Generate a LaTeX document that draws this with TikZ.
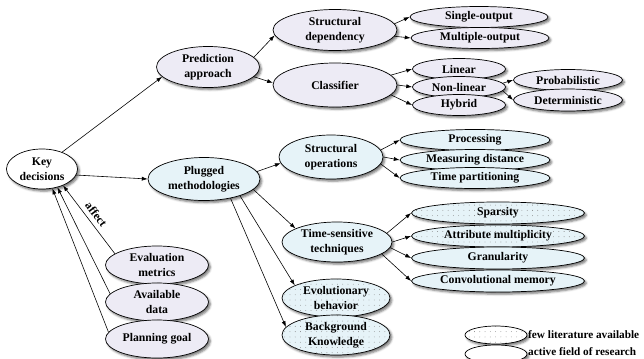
\documentclass[tikz,border=0pt]{standalone}
\usepackage{fontspec}
\setmainfont{Liberation Serif}
\usetikzlibrary{shapes.geometric, arrows.meta, patterns.meta, shadows.blur}
\definecolor{predLilac}{HTML}{EDEBF5}
\definecolor{plugBlue}{HTML}{E6F3F8}

\begin{document}
\begin{tikzpicture}[x=0.03cm, y=-0.03cm,
    baseNode/.style={ellipse, draw=black, line width=0.6pt, inner sep=0pt, align=center, font=\fontsize{10}{12.5}\selectfont\bfseries, blur shadow={shadow xshift=1.6pt, shadow yshift=-1.8pt, shadow blur steps=4, shadow opacity=55}},
    keyNode/.style={baseNode, fill=white},
    predNode/.style={baseNode, fill=predLilac},
    plugNode/.style={baseNode, fill=plugBlue},
    fewLit/.style={preaction={fill=#1}, pattern={Dots[distance=4.5pt, radius=0.35pt]}, pattern color=black!50},
    leafArrow/.style={-{Latex[length=5pt, width=3.5pt]}, line width=0.5pt},
    legendText/.style={anchor=west, inner sep=0pt, font=\fontsize{9.6}{12}\selectfont\bfseries},
]
\useasboundingbox (0,0) rectangle (644,358);
\node[keyNode, minimum width=2.13cm, minimum height=1.2cm] (key) at (42,169) {Key\\decisions};
\node[predNode, minimum width=3.09cm, minimum height=1.23cm] (pred) at (208,67) {Prediction\\approach};
\node[predNode, minimum width=3.72cm, minimum height=1.23cm] (sdep) at (335,30) {Structural\\dependency};
\node[predNode, minimum width=3.72cm, minimum height=1.32cm] (clf) at (335,85) {Classifier};
\node[predNode, minimum width=4.14cm, minimum height=0.63cm] (single) at (479,17) {Single-output};
\node[predNode, minimum width=4.14cm, minimum height=0.63cm] (multi) at (480,38) {Multiple-output};
\node[predNode, minimum width=2.79cm, minimum height=0.63cm] (linear) at (459,69) {Linear};
\node[predNode, minimum width=2.79cm, minimum height=0.63cm] (nonlin) at (459,87) {Non-linear};
\node[predNode, minimum width=2.79cm, minimum height=0.63cm] (hybrid) at (459,105) {Hybrid};
\node[predNode, minimum width=3.27cm, minimum height=0.63cm] (prob) at (568,80) {Probabilistic};
\node[predNode, minimum width=3.27cm, minimum height=0.66cm] (deter) at (568,100) {Deterministic};
\node[plugNode, minimum width=3.36cm, minimum height=1.29cm] (plug) at (204,179) {Plugged\\methodologies};
\node[plugNode, minimum width=3.12cm, minimum height=1.32cm] (sops) at (331,157) {Structural\\operations};
\node[plugNode, minimum width=4.5cm, minimum height=0.63cm] (proc) at (475,140) {Processing};
\node[plugNode, minimum width=4.5cm, minimum height=0.63cm] (meas) at (475,160) {Measuring distance};
\node[plugNode, minimum width=4.5cm, minimum height=0.63cm] (timep) at (475,178) {Time partitioning};
\node[plugNode, minimum width=3.3cm, minimum height=1.2cm] (tst) at (337,242) {Time-sensitive\\techniques};
\node[plugNode, fewLit=plugBlue, minimum width=5.19cm, minimum height=0.66cm] (spars) at (498,213) {Sparsity};
\node[plugNode, fewLit=plugBlue, minimum width=5.19cm, minimum height=0.66cm] (attr) at (498,236) {Attribute multiplicity};
\node[plugNode, minimum width=5.19cm, minimum height=0.66cm] (gran) at (498,258) {Granularity};
\node[plugNode, minimum width=5.19cm, minimum height=0.66cm] (conv) at (498,281) {Convolutional memory};
\node[plugNode, fewLit=plugBlue, minimum width=3.24cm, minimum height=1.14cm] (evo) at (336,298) {Evolutionary\\behavior};
\node[plugNode, fewLit=plugBlue, minimum width=3.24cm, minimum height=1.2cm] (bgk) at (336,335) {Background\\Knowledge};
\node[predNode, minimum width=3.09cm, minimum height=1.14cm] (evalm) at (157,265) {Evaluation\\metrics};
\node[predNode, minimum width=3.09cm, minimum height=1.14cm] (avail) at (157,302) {Available\\data};
\node[predNode, minimum width=3.09cm, minimum height=1.14cm] (plan) at (157,339) {Planning goal};
\node[keyNode, fewLit=white, minimum width=1.86cm, minimum height=0.54cm] (legDot) at (496,335) {};
\node[keyNode, minimum width=1.86cm, minimum height=0.54cm] (legSolid) at (496,354) {};
\node[legendText] (legDotText) at (528,335) {few literature available};
\node[legendText] (legSolidText) at (528,352) {active field of research};

\draw[leafArrow] (key.40) -- (pred.192);
\draw[leafArrow] (key.-10) -- (plug.west);
\draw[leafArrow] (pred.12) -- (sdep.185);
\draw[leafArrow] (pred.-12) -- (clf.178);
\draw[leafArrow] (sdep.6) -- (single.west);
\draw[leafArrow] (sdep.-6) -- (multi.west);
\draw[leafArrow] (clf.10) -- (linear.west);
\draw[leafArrow] (clf.0) -- (nonlin.west);
\draw[leafArrow] (clf.-10) -- (hybrid.west);
\draw[leafArrow] (nonlin.5) -- (prob.west);
\draw[leafArrow] (nonlin.-5) -- (deter.west);
\draw[leafArrow] (plug.8) -- (sops.187);
\draw[leafArrow] (plug.-12) -- (tst.162);
\draw[leafArrow] (plug.-25) -- (evo.163);
\draw[leafArrow] (plug.-36) -- (bgk.171);
\draw[leafArrow] (sops.8) -- (proc.west);
\draw[leafArrow] (sops.0) -- (meas.west);
\draw[leafArrow] (sops.-8) -- (timep.west);
\draw[leafArrow] (tst.10) -- (spars.west);
\draw[leafArrow] (tst.0) -- (attr.west);
\draw[leafArrow] (tst.-6) -- (gran.west);
\draw[leafArrow] (tst.-15) -- (conv.west);
\draw[leafArrow] (evalm.165) -- node[midway, sloped, above, inner sep=4pt, font=\fontsize{10}{12}\selectfont\bfseries] (affectLabel) {affect} (key.-38);
\draw[leafArrow] (avail.170) -- (key.-50);
\draw[leafArrow] (plan.172) -- (key.-62);
\end{tikzpicture}
\end{document}
